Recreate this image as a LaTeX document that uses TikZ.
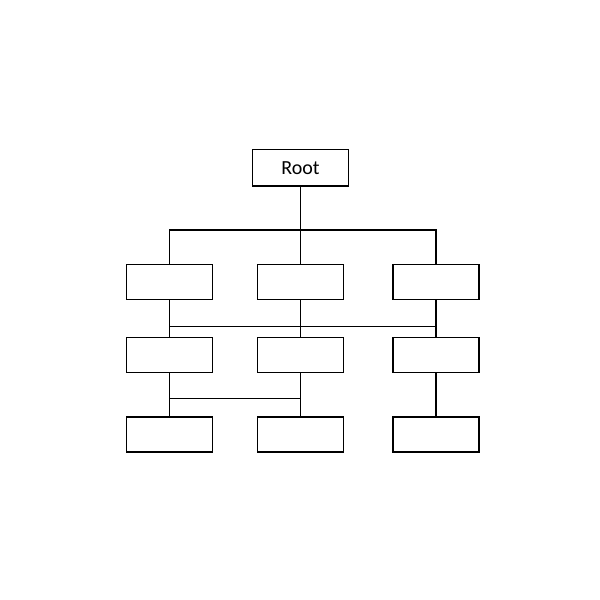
\documentclass[tikz,border=0pt]{standalone}
\usepackage{fontspec}
\setmainfont{Carlito}
\begin{document}
\begin{tikzpicture}[x=1pt,y=-1pt,
  box/.style={draw=black,line width=1.5pt,minimum width=86pt,minimum height=35pt,inner sep=0pt,fill=white},
  rootbox/.style={box,minimum width=96pt,minimum height=36.5pt,font=\fontsize{20}{24}\selectfont},
  conn/.style={draw=black,line width=1.5pt}]
\useasboundingbox[fill=white] (0,0) rectangle (600,600);
\node[rootbox] (root) at (300.5,167.7) {Root};
\node[box] (a1) at (169.5,281.8) {};
\node[box] (a2) at (300.5,281.8) {};
\node[box] (a3) at (436,281.8) {};
\node[box] (b1) at (169.5,354.9) {};
\node[box] (b2) at (300.5,354.9) {};
\node[box] (b3) at (436,354.9) {};
\node[box] (c1) at (169.5,434.7) {};
\node[box] (c2) at (300.5,434.7) {};
\node[box] (c3) at (436,434.7) {};
\coordinate (bar1) at (0,230);
\coordinate (bar2) at (0,326.5);
\coordinate (bar3) at (0,398.5);
\draw[conn] (root.south) -- (a2.north);
\draw[conn] (a1.north) -- (a1.north |- bar1) -- (a3.north |- bar1) -- (a3.north);
\draw[conn] (a1.south) -- (b1.north);
\draw[conn] (a2.south) -- (b2.north);
\draw[conn] (a3.south) -- (b3.north);
\draw[conn] (a1.south |- bar2) -- (a3.south |- bar2);
\draw[conn] (b1.south) -- (c1.north);
\draw[conn] (b2.south) -- (c2.north);
\draw[conn] (b3.south) -- (c3.north);
\draw[conn] (b1.south |- bar3) -- (b2.south |- bar3);
\end{tikzpicture}
\end{document}
